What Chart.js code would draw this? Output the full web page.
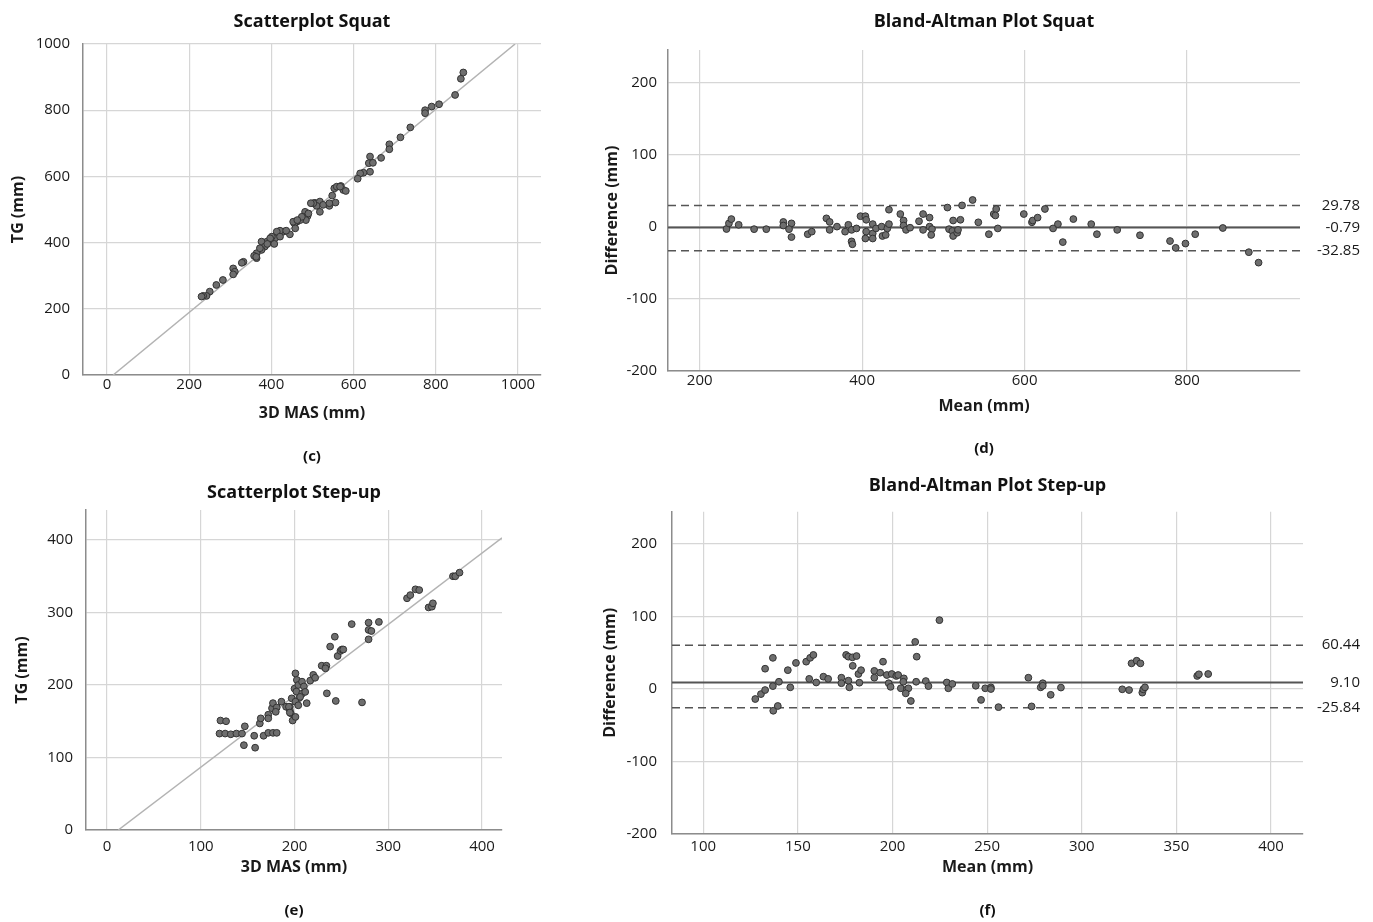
<!DOCTYPE html>
<html><head><meta charset="utf-8">
<script src="https://cdn.jsdelivr.net/npm/chart.js@4.4.1/dist/chart.umd.min.js"></script>
<style>
html,body{margin:0;padding:0;background:#fff;}
body{width:1373px;height:922px;position:relative;overflow:hidden;}
canvas{position:absolute;}
</style></head><body>
<canvas id="c" width="560" height="475" style="left:0;top:0"></canvas>
<canvas id="d" width="813" height="475" style="left:560px;top:0"></canvas>
<canvas id="e" width="560" height="447" style="left:0;top:475px"></canvas>
<canvas id="f" width="813" height="447" style="left:560px;top:475px"></canvas>
<script>
// ---- Scatterplot Squat (c) ----
const squatScatterX = [867,861,847,808,790,774,774,738,714,687,687,667,640,637,647,640,624,616,610,569,553,575,581,548,556,541,506,518,510,526,518,482,488,478,484,462,456,458,470,445,429,421,413,409,401,397,407,389,376,384,376,364,358,364,332,328,307,311,307,282,266,250,242,234,230,453,474,490,502,541,559,567,372,363,413,436,397,390,421,463,496];
const squatScatterY = [914,895,846,818,811,800,791,748,718,697,682,656,660,640,641,614,611,609,593,571,564,559,556,542,521,511,520,524,511,514,493,493,480,478,468,463,458,443,468,425,433,436,423,413,418,408,396,403,403,388,378,368,360,353,342,339,322,312,304,287,272,252,239,239,237,463,478,488,519,519,569,569,383,357,433,436,413,396,418,468,519];
const squatRefX = [15, 993];
const squatRefY = [0, 1000];
const squatScatterTicks = [0, 200, 400, 600, 800, 1000];

// ---- Bland-Altman Squat (d) ----
const squatMean = [233,236,239,248,267,282,303,303,313,310,313,333,338,356,360,360,369,379,383,387,387,388,393,398,404,405,405,404,413,413,413,417,424,425,429,431,433,433,447,451,451,454,459,470,475,475,483,483,486,485,505,507,511,512,517,518,512,521,523,536,543,556,562,565,564,567,599,609,610,616,625,635,641,647,660,682,689,714,742,779,786,798,810,844,876,888];
const squatDiff = [-2.8,5,11,3,-3,-3,7,2,5,-3,-14,-10,-6.5,12,7,-4,0.5,-6.5,3,-4,-20,-24,-2,15,15,10,-6.5,-16,4,-9,-16,-2,0.5,-12.5,-11,-2,4,24,18,9,2,-4,-1,8,18,-4,13,0.5,-3,-11,27,-3,-5.5,-12.5,-8,-4,9,10,30,37.5,6.5,-10,18,25,16,-2,18,6.5,9,13,25,-2,4,-21,11,4,-10,-4,-11.5,-19.5,-29,-23,-10,-1.4,-35,-49.5];
const squatLimits = [29.78, -0.79, -32.85]; // upper LoA, mean bias, lower LoA
const squatBATicksX = [200, 400, 600, 800];
const baTicksY = [-200, -100, 0, 100, 200];

// ---- Scatterplot Step-up (e) ----
const stepScatterX = [121,127,120,126,132,138,144,147,146,157,158,167,172,177,181,163,164,172,172,176,177,181,180,186,191,195,196,195,198,201,201,202.5,200,202,205,204,208,210,208,211.4,206,197,201,204,194,195,213,216.7,220,222,229,234,233,234.5,244,238,243,246,249,250.5,252,261,272,279,279,282,290,279,320,323.5,329,333,343,346.5,347.6,369,371.5,376];
const stepScatterY = [151,150,133,133,132,133,133,143,117,130,113.5,130,134,134,134,147,154,159,154,168,175,169,163,177,170,170,161,165.5,151,156,216,207,195,191,182,200,204.6,198,188,190.5,183.6,181.6,177,172,170,162,175,206,214,210,226.6,226.6,223,188.5,178,253,266.6,240,247,249,249,284,176,286,276,274.5,287,263,319.6,324,332,331,307,308,312.7,350,350,355];
const stepRefX = [12, 421.3];
const stepRefY = [0, 403];
const stepScatterTicks = [0, 100, 200, 300, 400];

// ---- Bland-Altman Step-up (f) ----
const stepMean = [127.5,130.5,132.7,132.7,136.8,136.8,137,139.4,140,144.7,146,149,154.4,156.5,158.2,156,159.7,163.5,166,173,173,176.7,177.2,175.5,176.7,178.8,181,179,182,183.4,182.5,190.4,190.4,193.5,195,197,198,199,199.6,202,203,206,205.7,204.4,207.6,208.4,207,209.7,212,212.8,212.5,224.8,217.6,219,228.7,229.5,231.6,244,246.8,249,252,252,256,273.5,271.8,278.3,279.4,279.4,283.6,289,321.4,325,326.3,329,331,332,332.5,333.4,361,361.9,366.8];
const stepDiff = [-13.8,-7,-1.4,28,43,4,-30,-23.4,10,26,2.3,36,37.7,43,47,14,9,17,14,15.6,8,11.5,2.3,47,44.6,43.7,45.5,32,20.7,26,8.7,25,15.6,22.5,37.7,19.3,8,3,20.7,18,19.3,14.7,10,1,-0.4,1,-6,-16.5,65,44.6,10,95,11,4,9,1,7,4.5,-15,1,2.3,0,-25,-24,15.6,2.3,8,4.5,-8,2,-0.4,-1.4,35.4,39,35.4,-5,-0.4,2.3,18,20.3,20.7];
const stepLimits = [60.44, 9.10, -25.84];
const stepBATicksX = [100, 150, 200, 250, 300, 350, 400];

// ---- styling ----
const FONT = '"Open Sans", "Noto Sans", sans-serif';
const TXT = '#1a1a1a';
const GRID = '#d6d6d6';
const AXIS = '#8c8c8c';
const PT_FILL = '#6e6e6e';
const PT_EDGE = '#333333';
const LIMIT_COLOR = '#555555';
Chart.defaults.font.family = FONT;
Chart.defaults.color = TXT;

const toPts = (xs, ys) => xs.map((x, i) => ({x, y: ys[i]}));
const fixedTicks = vals => s => { s.ticks = vals.map(v => ({value: v})); };

function pointSet(xs, ys) {
  return {data: toPts(xs, ys), pointRadius: 3.4, pointBackgroundColor: PT_FILL,
    pointBorderColor: PT_EDGE, pointBorderWidth: 1, showLine: false, order: 1};
}
function lineSet(xs, ys, color, width, dash) {
  return {data: toPts(xs, ys), showLine: true, pointRadius: 0, borderColor: color,
    borderWidth: width, borderDash: dash || [], order: 2, fill: false};
}

function axis(min, max, ticks, label) {
  return {
    type: 'linear', min, max,
    afterBuildTicks: fixedTicks(ticks),
    grid: {color: GRID, lineWidth: 1.2, drawTicks: false},
    border: {color: AXIS, width: 1.5},
    ticks: {autoSkip: false, font: {size: 15}, color: TXT, padding: 2, callback: v => String(v)},
    title: {display: true, text: label, font: {size: 16, weight: 'bold'}, color: TXT, padding: 0}
  };
}

function makeChart(id, cfg) {
  const sc = {
    x: axis(cfg.xr[0], cfg.xr[1], cfg.xt, cfg.xl),
    y: axis(cfg.yr[0], cfg.yr[1], cfg.yt, cfg.yl)
  };
  sc.x.ticks.padding = cfg.xTickPad;
  sc.x.afterFit = s => { s.height = cfg.xH; };
  sc.x.title.padding = {top: 0, bottom: 0};
  sc.y.ticks.padding = cfg.yTickPad;
  sc.y.afterFit = s => { s.width = cfg.yW; };
  sc.y.title.padding = {top: cfg.yTitlePad, bottom: 0};
  if (cfg.limits) {
    sc.y2 = {
      type: 'linear', position: 'right', min: cfg.yr[0], max: cfg.yr[1],
      afterBuildTicks: fixedTicks(cfg.limits),
      afterFit: s => { s.width = cfg.y2W; },
      grid: {display: false, drawTicks: false}, border: {display: false},
      ticks: {autoSkip: false, padding: 12, crossAlign: 'far', font: {size: 15}, color: TXT,
        callback: v => Number(v).toFixed(2)}
    };
  }
  return new Chart(document.getElementById(id), {
    type: 'scatter',
    data: {datasets: cfg.datasets},
    options: {
      responsive: false, animation: false, events: [],
      layout: {padding: {left: 0, right: cfg.padR, top: 0, bottom: 0}},
      plugins: {
        legend: {display: false}, tooltip: {enabled: false},
        title: {display: true, text: cfg.title, fullSize: false, color: '#111',
          font: {size: 18, weight: 'bold'}, padding: cfg.titlePad},
        subtitle: {display: true, text: cfg.caption, position: 'bottom', fullSize: false, color: '#111',
          font: {size: 15, weight: 'bold'}, padding: cfg.capPad}
      },
      scales: sc
    }
  });
}

// (c)
makeChart('c', {
  title: 'Scatterplot Squat', caption: '(c)',
  xr: [-58.4, 1056], yr: [0, 1000], xt: squatScatterTicks, yt: squatScatterTicks,
  xl: '3D MAS (mm)', yl: 'TG (mm)',
  xTickPad: 1, xH: 47.6, yTickPad: 13, yW: 83, yTitlePad: 8.4, padR: 19,
  titlePad: {top: 11.2, bottom: 11.2}, capPad: {top: 25.4, bottom: 9},
  datasets: [
    lineSet(squatRefX, squatRefY, '#b3b3b3', 1.5),
    pointSet(squatScatterX, squatScatterY)
  ]
});

// (d)
const dX = [161, 939];
makeChart('d', {
  title: 'Bland-Altman Plot Squat', caption: '(d)',
  xr: dX, yr: [-200, 245.8], xt: squatBATicksX, yt: baTicksY,
  xl: 'Mean (mm)', yl: 'Difference (mm)',
  xTickPad: 1, xH: 44.6, yTickPad: 11, yW: 108, yTitlePad: 42.4, padR: 13, y2W: 60,
  limits: squatLimits,
  titlePad: {top: 11.2, bottom: 17.2}, capPad: {top: 24.4, bottom: 17},
  datasets: [
    lineSet(dX, [squatLimits[0], squatLimits[0]], LIMIT_COLOR, 1.5, [8, 5]),
    lineSet(dX, [squatLimits[1], squatLimits[1]], LIMIT_COLOR, 2),
    lineSet(dX, [squatLimits[2], squatLimits[2]], LIMIT_COLOR, 1.5, [8, 5]),
    pointSet(squatMean, squatDiff)
  ]
});

// (e)
makeChart('e', {
  title: 'Scatterplot Step-up', caption: '(e)',
  xr: [-22.4, 421.3], yr: [0, 441.4], xt: stepScatterTicks, yt: stepScatterTicks,
  xl: '3D MAS (mm)', yl: 'TG (mm)',
  xTickPad: 8, xH: 46.6, yTickPad: 13, yW: 86, yTitlePad: 12.4, padR: 58,
  titlePad: {top: 7.2, bottom: 6.2}, capPad: {top: 25.4, bottom: 2},
  datasets: [
    lineSet(stepRefX, stepRefY, '#b3b3b3', 1.5),
    pointSet(stepScatterX, stepScatterY)
  ]
});

// (f)
const fX = [83.5, 416.9];
makeChart('f', {
  title: 'Bland-Altman Plot Step-up', caption: '(f)',
  xr: fX, yr: [-200, 244.6], xt: stepBATicksX, yt: baTicksY,
  xl: 'Mean (mm)', yl: 'Difference (mm)',
  xTickPad: 4, xH: 42.6, yTickPad: 15, yW: 112, yTitlePad: 40.4, padR: 13, y2W: 57,
  limits: stepLimits,
  titlePad: {top: 0, bottom: 15.1}, capPad: {top: 25.4, bottom: 2},
  datasets: [
    lineSet(fX, [stepLimits[0], stepLimits[0]], LIMIT_COLOR, 1.5, [8, 5]),
    lineSet(fX, [stepLimits[1], stepLimits[1]], LIMIT_COLOR, 2),
    lineSet(fX, [stepLimits[2], stepLimits[2]], LIMIT_COLOR, 1.5, [8, 5]),
    pointSet(stepMean, stepDiff)
  ]
});
</script>
</body></html>
